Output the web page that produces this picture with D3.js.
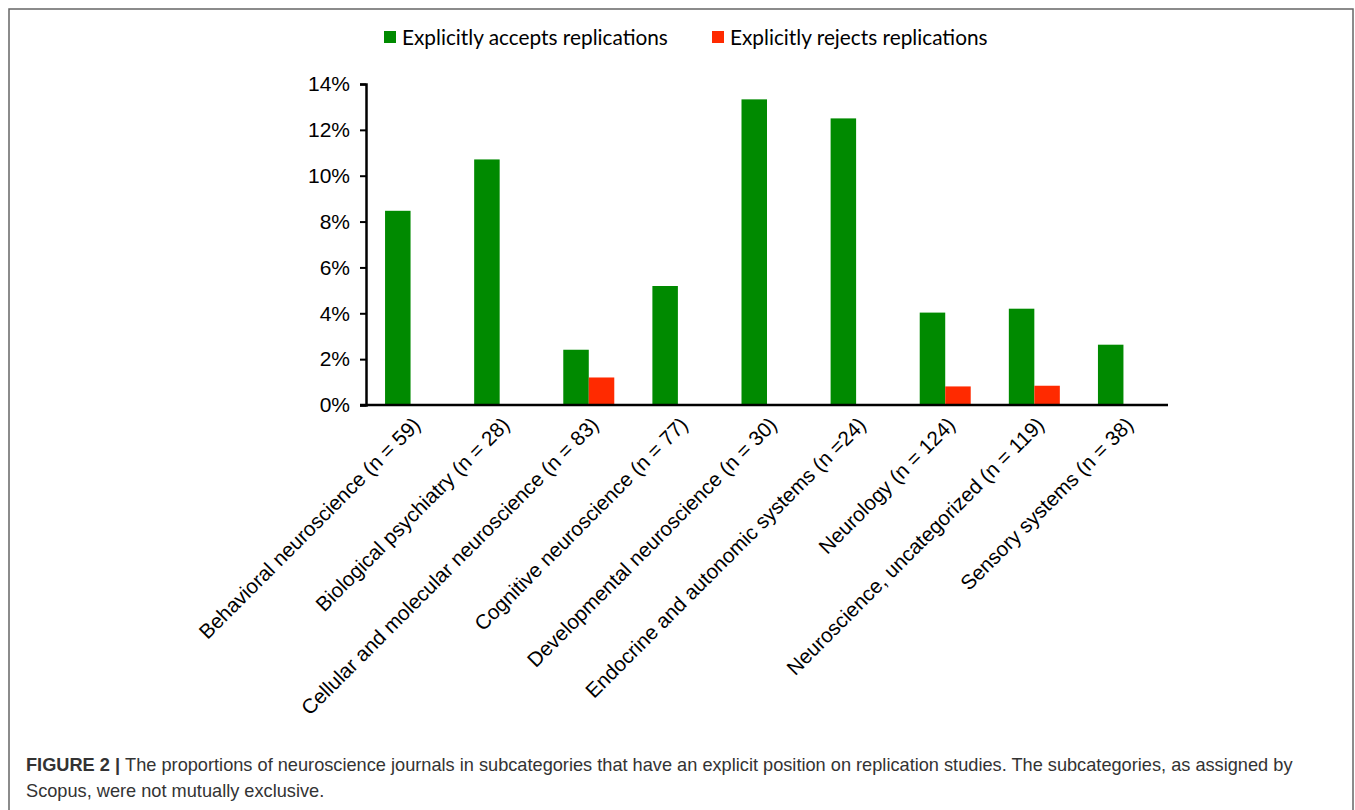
<!DOCTYPE html>
<html>
<head>
<meta charset="utf-8">
<script src="https://cdn.jsdelivr.net/npm/d3@7"></script>
<style>
  html, body { margin: 0; padding: 0; background: #fff; }
  svg { display: block; }
</style>
</head>
<body>
<svg id="chart" width="1355" height="810"></svg>
<script>
const categories = [
  "Behavioral neuroscience (n = 59)",
  "Biological psychiatry (n = 28)",
  "Cellular and molecular neuroscience (n = 83)",
  "Cognitive neuroscience (n = 77)",
  "Developmental neuroscience (n = 30)",
  "Endocrine and autonomic systems (n =24)",
  "Neurology (n = 124)",
  "Neuroscience, uncategorized (n = 119)",
  "Sensory systems (n = 38)"
];
const acceptsValues = [0.0847, 0.1071, 0.0241, 0.0519, 0.1333, 0.125, 0.0403, 0.0420, 0.0263];
const rejectsValues = [0, 0, 0.0120, 0, 0, 0, 0.0081, 0.0084, 0];
const yTicks = [0, 0.02, 0.04, 0.06, 0.08, 0.10, 0.12, 0.14];
const seriesNames = ["Explicitly accepts replications", "Explicitly rejects replications"];
const seriesColors = ["#008a00", "#ff2a00"];

const svg = d3.select("#chart");

// border
svg.append("rect").attr("x", 9).attr("y", 9).attr("width", 1344).attr("height", 820)
  .attr("fill", "none").attr("stroke", "#666").attr("stroke-width", 1.5);

const pLeft = 366, pRight = 1168, pTop = 84, pBottom = 405;
const x = d3.scaleBand().domain(categories).range([pLeft, pRight]);
const y = d3.scaleLinear().domain([0, 0.14]).range([pBottom, pTop]);
const bw = 25.5;

// bars
const g = svg.append("g");
g.selectAll("rect.acc").data(categories).join("rect")
  .attr("class", "acc")
  .attr("x", d => x(d) + x.bandwidth() / 2 - bw)
  .attr("width", bw)
  .attr("y", (d, i) => y(acceptsValues[i]))
  .attr("height", (d, i) => y(0) - y(acceptsValues[i]))
  .attr("fill", seriesColors[0]);
g.selectAll("rect.rej").data(categories.filter((d, i) => rejectsValues[i] > 0)).join("rect")
  .attr("class", "rej")
  .attr("x", d => x(d) + x.bandwidth() / 2)
  .attr("width", bw)
  .attr("y", d => y(rejectsValues[categories.indexOf(d)]))
  .attr("height", d => y(0) - y(rejectsValues[categories.indexOf(d)]))
  .attr("fill", seriesColors[1]);

// y axis
const yAxis = svg.append("g").attr("transform", `translate(${pLeft},0)`)
  .call(d3.axisLeft(y).tickValues(yTicks).tickFormat(d => Math.round(d * 100) + "%").tickSize(6).tickPadding(10));
yAxis.select(".domain").attr("stroke", "#000").attr("stroke-width", 2.5);
yAxis.selectAll(".tick line").attr("stroke", "#000").attr("stroke-width", 2);
yAxis.selectAll(".tick text").attr("font-family", "Liberation Sans, Arial, sans-serif")
  .attr("font-size", 21).attr("fill", "#000");

// x axis line
svg.append("line").attr("x1", pLeft - 6).attr("x2", pRight).attr("y1", pBottom).attr("y2", pBottom)
  .attr("stroke", "#000").attr("stroke-width", 2.5);

// x labels
svg.append("g").selectAll("text").data(categories).join("text")
  .attr("transform", d => `translate(${x(d) + x.bandwidth() / 2 + 6},${pBottom + 16}) rotate(-45)`)
  .attr("text-anchor", "end")
  .attr("dy", "0.35em")
  .attr("font-family", "Liberation Sans, Arial, sans-serif")
  .attr("font-size", 20.6)
  .attr("fill", "#000")
  .text(d => d);

// legend
const legendX = [384, 712];
const lg = svg.append("g");
seriesNames.forEach((n, i) => {
  lg.append("rect").attr("x", legendX[i]).attr("y", 31).attr("width", 12).attr("height", 12).attr("fill", seriesColors[i]);
  lg.append("text").attr("x", legendX[i] + 18).attr("y", 45)
    .attr("font-family", "Lato, Carlito, sans-serif").attr("font-size", 20.8).attr("fill", "#000")
    .text(n);
});

// caption
const cap = svg.append("g").attr("font-family", "Liberation Sans, Arial, sans-serif").attr("font-size", 18.2).attr("fill", "#333");
const t1 = cap.append("text").attr("x", 26).attr("y", 771);
t1.append("tspan").attr("font-weight", "bold").text("FIGURE 2 | ");
t1.append("tspan").text("The proportions of neuroscience journals in subcategories that have an explicit position on replication studies. The subcategories, as assigned by");
cap.append("text").attr("x", 26).attr("y", 797).text("Scopus, were not mutually exclusive.");
</script>
</body>
</html>
